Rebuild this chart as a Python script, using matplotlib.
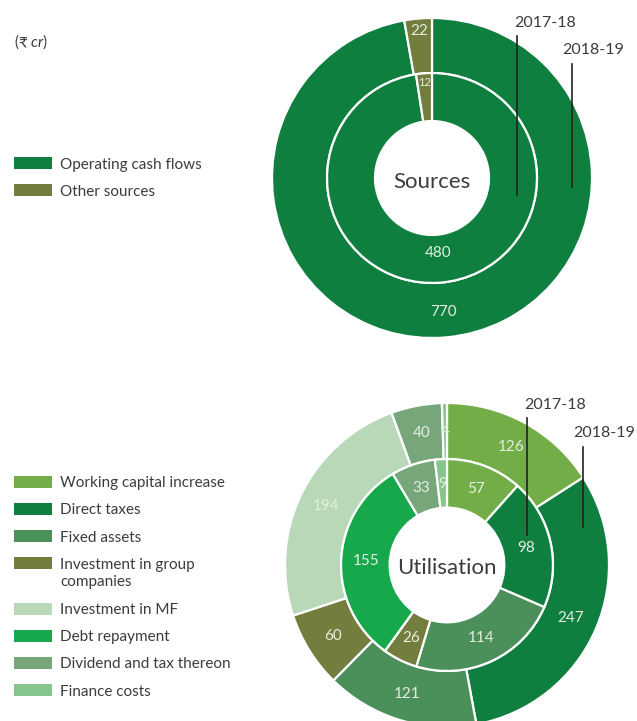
import matplotlib
matplotlib.use("Agg")
import matplotlib.pyplot as plt
from matplotlib.patches import Rectangle
import numpy as np

plt.rcParams["font.family"] = ["Lato", "DejaVu Sans"]
plt.rcParams["mathtext.fontset"] = "custom"
plt.rcParams["mathtext.it"] = "Lato:italic"
plt.rcParams["mathtext.rm"] = "Lato"

FIG_W, FIG_H = 637, 721

# --- data -----------------------------------------------------------------
source_labels = ["Operating cash flows", "Other sources"]
sources_1819 = [770, 22]
sources_1718 = [480, 12]
source_colors = ["#0e7f3e", "#737d3e"]

use_labels = [
    "Working capital increase",
    "Direct taxes",
    "Fixed assets",
    "Investment in group\ncompanies",
    "Investment in MF",
    "Debt repayment",
    "Dividend and tax thereon",
    "Finance costs",
]
use_1819 = [126, 247, 121, 60, 194, 0, 40, 4]
use_1718 = [57, 98, 114, 26, 0, 155, 33, 9]
use_colors = ["#72ad47", "#0e7f3e", "#4b8f5a", "#737d3e",
              "#b8d8b8", "#17a84c", "#76a67a", "#86c58c"]

year_labels = ["2017-18", "2018-19"]

TEXT = "#3c3c3c"
NUM = "#e6eee3"


def px_axes(fig, cx, cy, r):
    # square axes centred on pixel (cx, cy), 1 data unit = r pixels
    ax = fig.add_axes([(cx - r) / FIG_W, 1 - (cy + r) / FIG_H,
                       2 * r / FIG_W, 2 * r / FIG_H])
    return ax


def draw_ring(ax, values, colors, radius, width, label_r, sizes):
    wedges, _ = ax.pie(values, colors=colors, radius=radius, startangle=90,
                       counterclock=False,
                       wedgeprops=dict(width=width, edgecolor="white", linewidth=1.6))
    for i, (w, v) in enumerate(zip(wedges, values)):
        if v == 0:
            continue
        ang = np.deg2rad((w.theta1 + w.theta2) / 2)
        lr = label_r[i] if isinstance(label_r, list) else label_r
        fs = sizes[i] if isinstance(sizes, list) else sizes
        ax.text(lr * np.cos(ang), lr * np.sin(ang), str(v), color=NUM,
                fontsize=fs, ha="center", va="center")


def year_markers(ax, marks):
    for label, (lx, y1, y2, tx, ty) in zip(year_labels, marks):
        ax.plot([lx, lx], [y1, y2], color="#222222", lw=1.2, clip_on=False)
        ax.text(tx, ty, label, color=TEXT, fontsize=11.5, ha="center",
                va="center", clip_on=False)


def legend_block(fig, labels, colors, y_start):
    y = y_start
    for lab, col in zip(labels, colors):
        fig.patches.append(Rectangle((14 / FIG_W, 1 - (y + 6) / FIG_H),
                                     38 / FIG_W, 12 / FIG_H,
                                     transform=fig.transFigure,
                                     facecolor=col, edgecolor="none"))
        fig.text(60 / FIG_W, 1 - (y - 5.5) / FIG_H, lab, color=TEXT,
                 fontsize=11, ha="left", va="top", linespacing=1.3)
        y += 27 + 19 * lab.count("\n")


fig = plt.figure(figsize=(FIG_W / 100, FIG_H / 100), dpi=100)

# --- sources --------------------------------------------------------------
ax1 = px_axes(fig, 432, 178, 160)
draw_ring(ax1, sources_1819, source_colors, 1.0, 0.344, [0.84, 0.92], 11)
draw_ring(ax1, sources_1718, source_colors, 0.656, 0.30, [0.47, 0.6], [11, 8])
ax1.text(0, -0.025, "Sources", color=TEXT, fontsize=16, ha="center", va="center")
ax1.set_xlim(-1, 1)
ax1.set_ylim(-1, 1)
ax1.set_aspect("equal")
ax1.axis("off")
year_markers(ax1, [(0.531, 0.8875, -0.106, 0.706, 0.97),
                   (0.875, 0.7125, -0.056, 1.01, 0.80)])

# --- utilisation ----------------------------------------------------------
ax2 = px_axes(fig, 447, 565, 162)
draw_ring(ax2, use_1819, use_colors, 1.0, 0.346, 0.83, 11)
draw_ring(ax2, use_1718, use_colors, 0.654, 0.30, 0.50, 11)
ax2.text(0, -0.02, "Utilisation", color=TEXT, fontsize=16, ha="center", va="center")
ax2.set_xlim(-1, 1)
ax2.set_ylim(-1, 1)
ax2.set_aspect("equal")
ax2.axis("off")
year_markers(ax2, [(0.494, 0.907, 0.185, 0.67, 0.988),
                   (0.84, 0.728, 0.235, 0.969, 0.815)])

# --- legends and unit -----------------------------------------------------
fig.text(14 / FIG_W, 1 - 42 / FIG_H, r"(₹ $\mathit{cr}$)", color=TEXT,
         fontsize=11, ha="left", va="center")
legend_block(fig, source_labels, source_colors, 163)
legend_block(fig, use_labels, use_colors, 482)

fig.savefig("out.png", dpi=100)
